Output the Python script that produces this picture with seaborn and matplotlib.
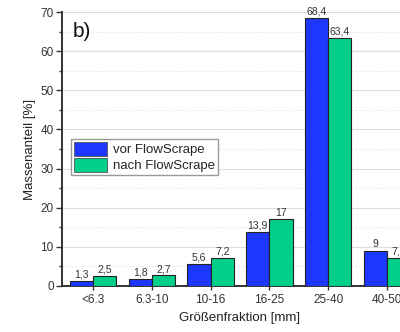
import matplotlib
matplotlib.use("Agg")
import matplotlib.pyplot as plt
from matplotlib.ticker import MultipleLocator
import seaborn as sns
import pandas as pd

# Daten
fraktionen = ['<6.3', '6.3-10', '10-16', '16-25', '25-40', '40-50']
vor_flowscrape = [1.3, 1.8, 5.6, 13.9, 68.4, 9.0]
nach_flowscrape = [2.5, 2.7, 7.2, 17.0, 63.4, 7.2]
serien = ['vor FlowScrape', 'nach FlowScrape']
farben = ['#1C38FF', '#00D088']

df = pd.DataFrame({
    'Fraktion': fraktionen * 2,
    'Wert': vor_flowscrape + nach_flowscrape,
    'Serie': [serien[0]] * len(fraktionen) + [serien[1]] * len(fraktionen),
})

sns.set_theme(style='white')
plt.rcParams['font.family'] = ['Liberation Sans', 'DejaVu Sans']

fig = plt.figure(figsize=(4.0, 3.32), dpi=100)
# Achse ragt rechts über den Bildrand hinaus (Original ist abgeschnitten)
ax = fig.add_axes([0.155, 0.1386, 0.89, 0.825])

sns.barplot(data=df, x='Fraktion', y='Wert', hue='Serie', order=fraktionen,
            hue_order=serien, palette=farben, width=0.79, gap=0,
            edgecolor='#222222', linewidth=0.8, saturation=1, ax=ax, zorder=3)

for cont, werte in zip(ax.containers, [vor_flowscrape, nach_flowscrape]):
    labels = [f'{v:g}'.replace('.', ',') for v in werte]
    ax.bar_label(cont, labels=labels, padding=1, fontsize=7.5, color='#333333')

ax.set_xlim(-0.53, 5.53)
ax.set_ylim(0, 70)
ax.yaxis.set_major_locator(MultipleLocator(10))
ax.yaxis.set_minor_locator(MultipleLocator(5))
ax.grid(axis='y', which='major', color='#dddddd', linewidth=0.8, zorder=0)
ax.grid(axis='y', which='minor', color='#e6e6e6', linewidth=0.6, linestyle=(0, (2, 2)), zorder=0)
ax.set_axisbelow(True)

for s in ['top', 'right']:
    ax.spines[s].set_visible(False)
for s in ['left', 'bottom']:
    ax.spines[s].set_color('#333333')
    ax.spines[s].set_linewidth(1.4)

ax.tick_params(axis='y', which='major', direction='out', length=4, width=1,
               color='#333333', labelsize=8.5, labelcolor='#333333', left=True, pad=2)
ax.tick_params(axis='y', which='minor', direction='out', length=2, width=1,
               color='#333333', left=True)
ax.tick_params(axis='x', which='major', direction='inout', length=6, width=1,
               color='#333333', labelsize=8.5, labelcolor='#333333', bottom=True, pad=3)

ax.set_xlabel('Größenfraktion [mm]', fontsize=9.5, color='#222222', labelpad=4)
ax.set_ylabel('Massenanteil [%]', fontsize=9.5, color='#222222', labelpad=3)

ax.text(0.03, 0.965, 'b)', transform=ax.transAxes, fontsize=15, va='top', ha='left',
        color='#111111')

leg = ax.legend(loc='upper left', bbox_to_anchor=(0.025, 0.535), fontsize=9.5,
                frameon=True, fancybox=False, edgecolor='#999999', framealpha=1,
                handlelength=2.5, handleheight=1.2, borderpad=0.2,
                labelspacing=0.15, handletextpad=0.5, borderaxespad=0)
for h in leg.legend_handles:
    h.set_edgecolor('#555555')
    h.set_linewidth(0.6)

fig.savefig('out.png', dpi=100)
